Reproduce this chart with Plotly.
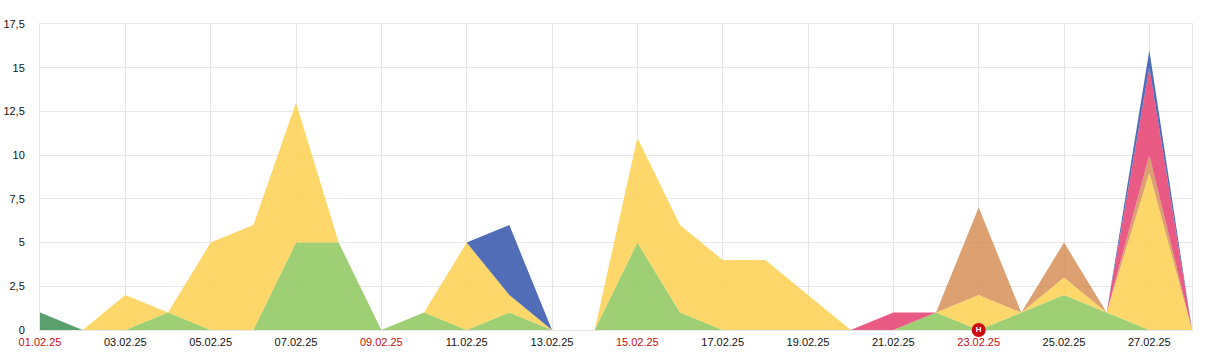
import plotly.graph_objects as go

days = [f"2025-02-{d:02d}" for d in range(1, 29)]
dark_green = [1, 0, 0, 0, 0, 0, 0, 0, 0, 0, 0, 0, 0, 0, 0, 0, 0, 0, 0, 0, 0, 0, 0, 0, 0, 0, 0, 0]
green = [0, 0, 0, 1, 0, 0, 5, 5, 0, 1, 0, 1, 0, 0, 5, 1, 0, 0, 0, 0, 0, 1, 0, 1, 2, 1, 0, 0]
yellow = [0, 0, 2, 0, 5, 6, 8, 0, 0, 0, 5, 1, 0, 0, 6, 5, 4, 4, 2, 0, 0, 0, 2, 0, 1, 0, 9, 0]
brown = [0, 0, 0, 0, 0, 0, 0, 0, 0, 0, 0, 0, 0, 0, 0, 0, 0, 0, 0, 0, 0, 0, 5, 0, 2, 0, 1, 0]
pink = [0, 0, 0, 0, 0, 0, 0, 0, 0, 0, 0, 0, 0, 0, 0, 0, 0, 0, 0, 0, 1, 0, 0, 0, 0, 0, 5, 0]
blue = [0, 0, 0, 0, 0, 0, 0, 0, 0, 0, 0, 4, 0, 0, 0, 0, 0, 0, 0, 0, 0, 0, 0, 0, 0, 0, 1, 0]

series = [
    ("dark green", dark_green, "rgba(60,143,84,0.85)"),
    ("green", green, "rgba(141,199,92,0.85)"),
    ("yellow", yellow, "rgba(253,208,80,0.85)"),
    ("brown", brown, "rgba(211,136,78,0.8)"),
    ("pink", pink, "rgba(229,62,110,0.85)"),
    ("blue", blue, "rgba(51,84,172,0.85)"),
]

x_tick_dates = days[::2]
x_tick_labels = ["01.02.25", "03.02.25", "05.02.25", "07.02.25", "09.02.25", "11.02.25", "13.02.25",
                 "15.02.25", "17.02.25", "19.02.25", "21.02.25", "23.02.25", "25.02.25", "27.02.25"]
red_labels = ["01.02.25", "09.02.25", "15.02.25", "23.02.25"]
y_tick_vals = [0, 2.5, 5, 7.5, 10, 12.5, 15, 17.5]
y_tick_labels = ["0", "2,5", "5", "7,5", "10", "12,5", "15", "17,5"]
holiday_dates = ["2025-02-23"]
holiday_vals = [0]

fig = go.Figure()
for name, vals, col in series:
    fig.add_trace(go.Scatter(x=days, y=vals, name=name, mode="none", stackgroup="one",
                             fillcolor=col, hoverinfo="x+y"))
fig.add_trace(go.Scatter(x=holiday_dates, y=holiday_vals, mode="markers+text", text=["H"],
                         textposition="middle center",
                         textfont=dict(family="Liberation Sans", size=8, color="white", weight="bold"),
                         marker=dict(size=14, color="#cc0a0f"), cliponaxis=False, hoverinfo="skip"))

ticktext = [f'<span style="color:#cc0a0f">{t}</span>' if t in red_labels else t for t in x_tick_labels]
grid = "#e6e6e6"
fig.update_layout(
    width=1225, height=362, margin=dict(l=39.5, r=33, t=23.5, b=32),
    paper_bgcolor="white", plot_bgcolor="white", showlegend=False,
    font=dict(family="Liberation Sans, Arial, sans-serif", size=11, color="#111111"),
    xaxis=dict(type="date", range=[days[0], days[-1]], tickmode="array", tickvals=x_tick_dates,
               ticktext=ticktext, showgrid=True, gridcolor=grid, gridwidth=1, zeroline=False,
               showline=True, linecolor=grid, mirror=True, ticks="outside", ticklen=2,
               tickcolor="rgba(0,0,0,0)", tickangle=0, layer="below traces", automargin=False),
    yaxis=dict(range=[0, 17.5], tickmode="array", tickvals=y_tick_vals, ticktext=y_tick_labels,
               showgrid=True, gridcolor=grid, gridwidth=1, zeroline=False, showline=True,
               linecolor=grid, mirror=True, ticks="outside", ticklen=12, tickcolor="rgba(0,0,0,0)",
               automargin=False),
)
fig.write_html("out.html", config={"displayModeBar": False},
               post_script="document.body.style.margin='0';document.body.style.overflow='hidden';")
